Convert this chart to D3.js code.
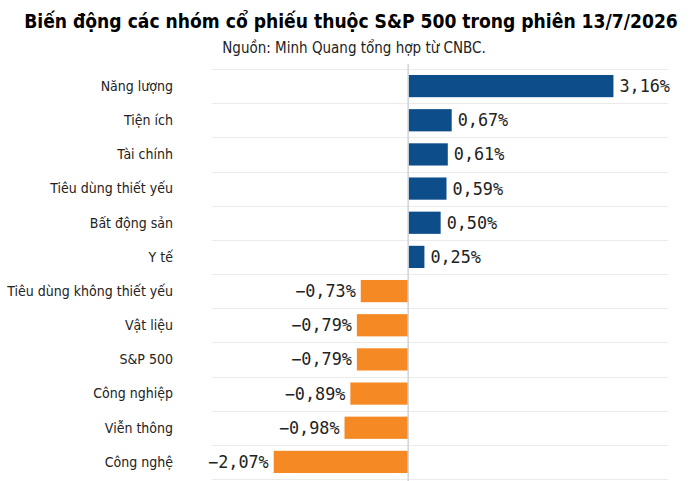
<!DOCTYPE html>
<html>
<head>
<meta charset="utf-8">
<script src="https://cdn.jsdelivr.net/npm/d3@7"></script>
<style>
  body { margin: 0; background: #fff; }
  .title { font-family: "DejaVu Sans Condensed", "DejaVu Sans", sans-serif; font-weight: bold; }
  .sub, .cat { font-family: "DejaVu Sans Condensed", "DejaVu Sans", sans-serif; fill: #222; }
  .val { font-family: "DejaVu Sans Mono", monospace; fill: #222; }
</style>
</head>
<body>
<div id="chart"></div>
<script>
// Data
const categories = ["Năng lượng", "Tiện ích", "Tài chính", "Tiêu dùng thiết yếu", "Bất động sản", "Y tế",
  "Tiêu dùng không thiết yếu", "Vật liệu", "S&P 500", "Công nghiệp", "Viễn thông", "Công nghệ"];
const values = [3.16, 0.67, 0.61, 0.59, 0.50, 0.25, -0.73, -0.79, -0.79, -0.89, -0.98, -2.07];

const data = categories.map((c, i) => ({ name: c, value: values[i] }));

const W = 700, H = 481;
const margin = { top: 69, right: 32, bottom: 3, left: 212 };

const svg = d3.select("#chart").append("svg")
    .attr("width", W)
    .attr("height", H);

// Title + source
svg.append("text")
    .attr("class", "title")
    .attr("x", 351).attr("y", 28)
    .attr("text-anchor", "middle")
    .attr("font-size", 19.1)
    .text("Biến động các nhóm cổ phiếu thuộc S&P 500 trong phiên 13/7/2026");

svg.append("text")
    .attr("class", "sub")
    .attr("x", 354).attr("y", 53)
    .attr("text-anchor", "middle")
    .attr("font-size", 15)
    .text("Nguồn: Minh Quang tổng hợp từ CNBC.");

// Scales
const x = d3.scaleLinear()
    .domain([-3.02, 4.0])
    .range([margin.left, W - margin.right]);

const y = d3.scaleBand()
    .domain(categories)
    .range([margin.top, H - margin.bottom + 1])
    .paddingInner(0.35)
    .paddingOuter(0.175);

const step = y.step();

// Row grid lines
const gridYs = categories.map(c => y(c) - y.paddingInner() * step / 2).concat([y(categories[categories.length - 1]) + y.bandwidth() + y.paddingInner() * step / 2]);
svg.append("g")
    .selectAll("line")
    .data(gridYs)
    .join("line")
    .attr("x1", margin.left)
    .attr("x2", W - margin.right)
    .attr("y1", d => Math.round(d) + 0.5)
    .attr("y2", d => Math.round(d) + 0.5)
    .attr("stroke", "#ebebeb")
    .attr("stroke-width", 1);

// Bars
svg.append("g")
    .selectAll("rect")
    .data(data)
    .join("rect")
    .attr("x", d => x(Math.min(0, d.value)))
    .attr("y", d => y(d.name))
    .attr("width", d => Math.abs(x(d.value) - x(0)))
    .attr("height", y.bandwidth())
    .attr("fill", d => d.value >= 0 ? "#0d4d8a" : "#f58a24");

// Zero line
svg.append("line")
    .attr("x1", x(0)).attr("x2", x(0))
    .attr("y1", margin.top - 5).attr("y2", H)
    .attr("stroke", "#cfd3d8")
    .attr("stroke-width", 1.5);

// Category labels
svg.append("g")
    .selectAll("text")
    .data(data)
    .join("text")
    .attr("class", "cat")
    .attr("x", 173)
    .attr("y", d => y(d.name) + y.bandwidth() / 2)
    .attr("dy", "0.35em")
    .attr("text-anchor", "end")
    .attr("font-size", 14)
    .text(d => d.name);

// Value labels
const fmt = v => (v < 0 ? "\u2212" : "") + Math.abs(v).toFixed(2).replace(".", ",") + "%";
svg.append("g")
    .selectAll("text")
    .data(data)
    .join("text")
    .attr("class", "val")
    .attr("x", d => d.value >= 0 ? x(d.value) + 6 : x(d.value) - 5)
    .attr("y", d => y(d.name) + y.bandwidth() / 2)
    .attr("dy", "0.36em")
    .attr("text-anchor", d => d.value >= 0 ? "start" : "end")
    .attr("font-size", 16.8)
    .text(d => fmt(d.value));
</script>
</body>
</html>
